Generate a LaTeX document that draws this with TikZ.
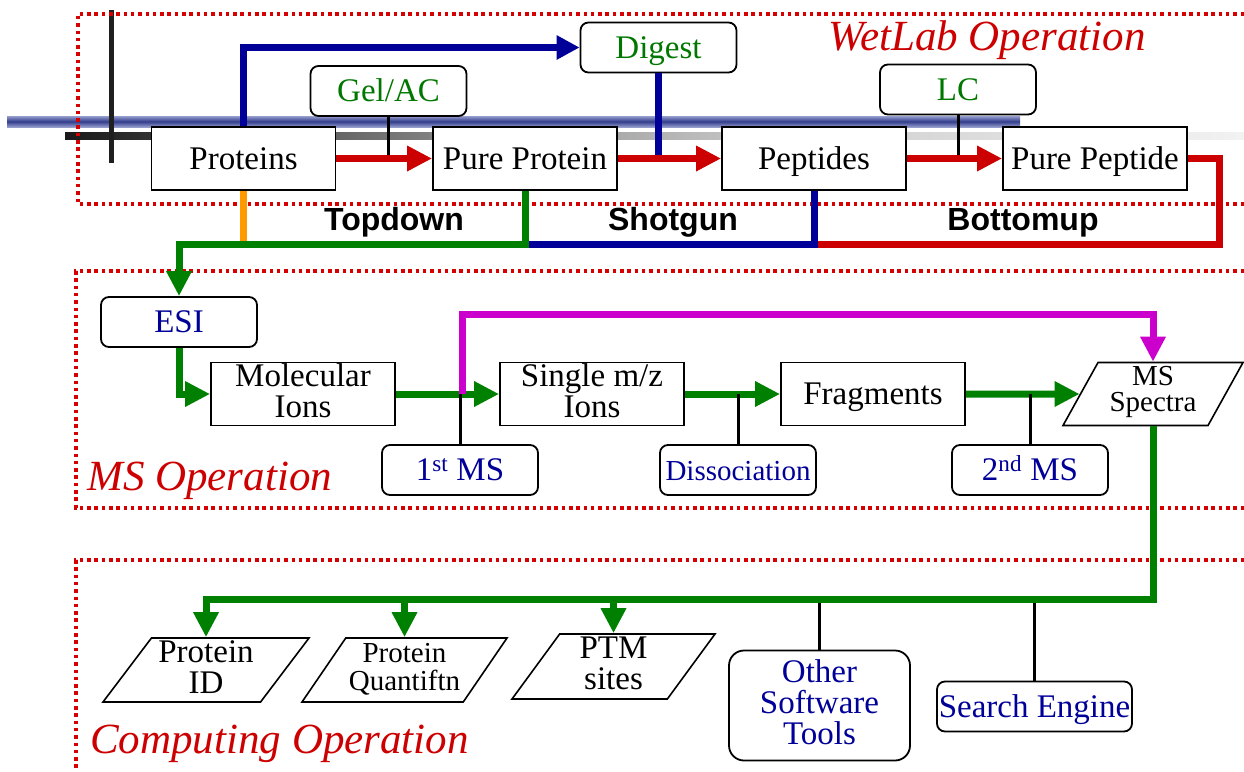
\documentclass[tikz,border=0pt]{standalone}
\usepackage{fontspec}
\setmainfont{Liberation Serif}
\newfontfamily\lsans{Liberation Sans}
\usetikzlibrary{arrows.meta,shapes.geometric}
\definecolor{myred}{RGB}{204,0,0}
\definecolor{dotred}{RGB}{215,0,0}
\definecolor{myblue}{RGB}{0,0,153}
\definecolor{mygreen}{RGB}{0,128,0}
\definecolor{txtgreen}{RGB}{0,120,0}
\definecolor{mymag}{RGB}{204,0,204}
\definecolor{myorange}{RGB}{255,153,0}
\definecolor{barmid}{RGB}{50,60,140}
\definecolor{baredge}{RGB}{150,158,205}
\newcommand\boxfont{\fontsize{33}{31}\selectfont}
\newcommand\smallboxfont{\fontsize{29}{28}\selectfont}
\newcommand\opfont{\fontsize{43}{43}\selectfont\itshape}
\newcommand\pathfont{\lsans\bfseries\fontsize{32}{32}\selectfont}
\begin{document}
\begin{tikzpicture}[x=1pt,y=-1pt,
  >={Triangle[length=25pt,width=24pt]},
  oneline/.style={text height=28pt, text depth=7pt},
  twoline/.style={text height=54pt, text depth=8pt},
  box/.style={draw=black, line width=1.8pt, fill=white, minimum width=184pt, minimum height=63pt, inner sep=0pt, align=center, font=\boxfont, oneline},
  rbox/.style={draw=black, line width=1.8pt, fill=white, rounded corners=8pt, minimum width=156pt, minimum height=50pt, inner sep=0pt, align=center, font=\boxfont, oneline},
  para/.style={draw=black, line width=1.6pt, fill=white, trapezium, trapezium stretches body, inner sep=0pt, align=center, font=\boxfont, twoline},
  dotf/.style={draw=dotred, line width=3.5pt, dash pattern=on 3.5pt off 3.8pt},
  thick7/.style={line width=7pt},
  blk/.style={draw=black, line width=3pt},
  oplab/.style={font=\opfont, text=myred, anchor=base west, inner sep=0pt},
  pathlab/.style={font=\pathfont, anchor=base, inner sep=0pt}
]
\useasboundingbox (0,0) rectangle (1244,771);

% background decorations
\shade[left color=black!90, right color=black!50] (65,132) rectangle (430,139);
\shade[left color=black!48, right color=black!25] (430,132) rectangle (720,139);
\shade[left color=black!22, right color=black!5] (720,132) rectangle (1244,139);
\shade[top color=baredge, bottom color=baredge, middle color=barmid] (7,116) rectangle (1020,127);
\fill[black!88] (108.5,10) rectangle (113.5,163);

% dotted frames
\draw[dotf] (1244,14) -- (78,14) -- (78,204) -- (1244,204);
\draw[dotf] (1244,271) -- (76,271) -- (76,508) -- (1244,508);
\draw[dotf] (1244,560) -- (76,560) -- (76,771);

% wetlab nodes
\node[box] (prot) at (243.5,158.5) {Proteins};
\node[box] (pprot) at (525,158.5) {Pure Protein};
\node[box] (pept) at (814,158.5) {Peptides};
\node[box] (ppept) at (1095,158.5) {Pure Peptide};
\node[rbox, text=txtgreen] (gel) at (388.5,91) {Gel/AC};
\node[rbox, text=txtgreen] (dig) at (658.5,47.5) {Digest};
\node[rbox, text=txtgreen] (lc) at (958,89.5) {LC};

% MS nodes
\node[rbox, text=myblue] (esi) at (179,322) {ESI};
\node[box, twoline] (mol) at (303,394) {Molecular\\Ions};
\node[box, twoline] (single) at (592,394) {Single m/z\\Ions};
\node[box] (frag) at (873,394) {Fragments};
\node[para, trapezium left angle=55, trapezium right angle=125, minimum width=180pt, minimum height=63pt, font=\fontsize{29}{26}\selectfont, text height=42pt, text depth=8pt] (msspec) at (1153,394) {MS\\Spectra};
\node[rbox, text=myblue] (ms1) at (460,470) {1\textsuperscript{st} MS};
\node[rbox, text=myblue, font=\smallboxfont] (diss) at (738,470) {Dissociation};
\node[rbox, text=myblue] (ms2) at (1030,470) {2\textsuperscript{nd} MS};

% computing nodes
\node[para, trapezium left angle=52, trapezium right angle=128, minimum width=206pt, minimum height=64pt] (pid) at (206,670) {Protein\\ID};
\node[para, trapezium left angle=52, trapezium right angle=128, minimum width=205pt, minimum height=64pt, font=\smallboxfont, text height=48pt, text depth=8pt] (pq) at (404.5,670) {Protein\\Quantiftn};
\node[para, trapezium left angle=52, trapezium right angle=128, minimum width=203pt, minimum height=65pt, text height=53pt, text depth=8pt] (ptm) at (613.5,666.5) {PTM\\sites};
\node[rbox, text=myblue, rounded corners=15pt, minimum width=181pt, minimum height=110pt, text height=85pt, text depth=8pt] (other) at (819.5,705.5) {Other\\Software\\Tools};
\node[rbox, text=myblue, minimum width=195pt] (search) at (1034.5,706.5) {Search Engine};

% helper coordinates
\coordinate (tdc) at (179,244);
\coordinate (buc) at (1219,244);
\coordinate (mz) at (462,314);
\coordinate (cbus) at (1154,599);

% wetlab connectors
\draw[blk] (gel.south) -- (gel.south |- prot.east);
\draw[blk] (lc.south) -- (lc.south |- pept.east);
\draw[thick7, myblue] (dig.south) -- (dig.south |- pprot.east);
\draw[thick7, myred, ->] (prot.east) -- (pprot.west);
\draw[thick7, myred, ->] (pprot.east) -- (pept.west);
\draw[thick7, myred, ->] (pept.east) -- (ppept.west);
\draw[thick7, myblue, ->, >={Triangle[length=23pt,width=23pt]}] (prot.north) |- (dig.west);
\draw[thick7, myorange] (prot.south) -- (prot.south |- tdc);
\draw[thick7, myred] (ppept.east) -| (buc) -- (pept.south |- buc);
\draw[thick7, myblue] (pept.south) |- (pprot.south |- tdc);
\draw[thick7, mygreen, ->] (pprot.south) |- (tdc) -- (esi.north);

% MS connectors
\draw[thick7, mygreen, ->] (esi.south) |- (mol.west);
\draw[thick7, mygreen, ->] (mol.east) -- (single.west);
\draw[thick7, mymag, ->] (mz |- mol.east) -- (mz) -| (msspec.north);
\draw[blk] (ms1.north) -- (ms1.north |- mol.east);
\draw[thick7, mygreen, ->] (single.east) -- (frag.west);
\draw[blk] (diss.north) -- (diss.north |- single.east);
\draw[thick7, mygreen, ->] (frag.east) -- (msspec);
\draw[blk] (ms2.north) -- (ms2.north |- frag.east);

% computing connectors
\draw[blk] (other.north) -- (other.north |- cbus);
\draw[blk] (search.north) -- (search.north |- cbus);
\draw[thick7, mygreen, ->] (msspec.south) -- (msspec.south |- cbus) -| (pid.north);
\draw[thick7, mygreen, ->] (pq.north |- cbus) -- (pq.north);
\draw[thick7, mygreen, ->] (ptm.north |- cbus) -- (ptm.north);

% labels
\node[oplab] (wlab) at (828,50) {WetLab Operation};
\node[oplab] (mslab) at (87,490) {MS Operation};
\node[oplab] (cplab) at (90,753) {Computing Operation};
\node[pathlab] (td) at (394,230) {Topdown};
\node[pathlab] (sg) at (673,230) {Shotgun};
\node[pathlab] (bu) at (1023,230) {Bottomup};
\end{tikzpicture}
\end{document}
